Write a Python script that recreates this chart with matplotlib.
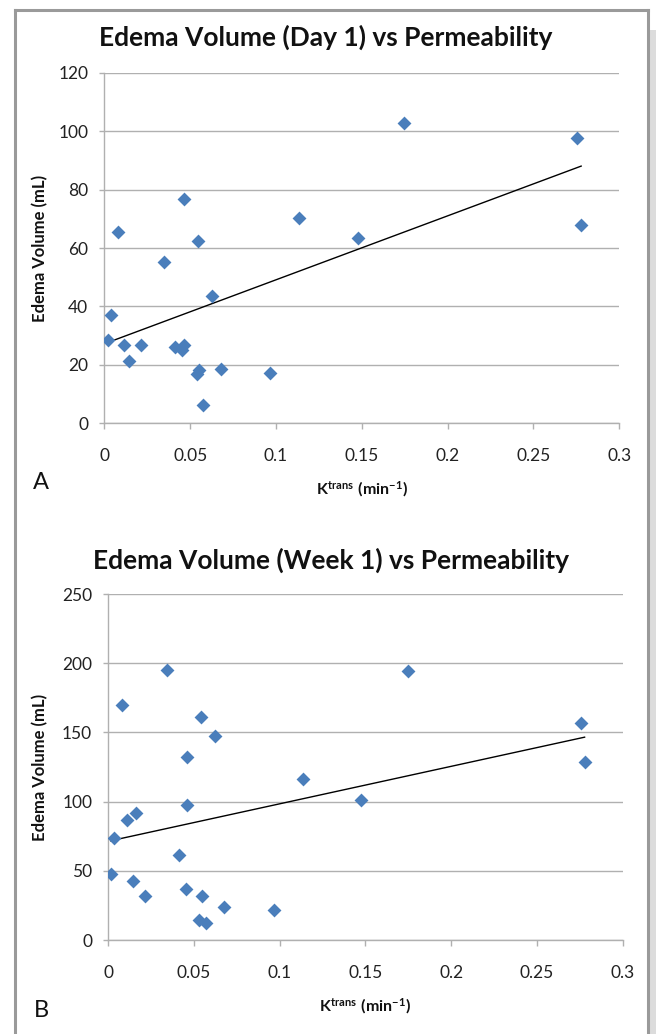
#edema volume vs permeability (Ktrans), day 1 and week 1

import matplotlib
matplotlib.use('Agg')
import matplotlib.pyplot as plt
import numpy as np
from matplotlib.lines import Line2D
from matplotlib.patches import Rectangle

plt.rcParams['font.family'] = ['Lato', 'DejaVu Sans']
plt.rcParams['mathtext.fontset'] = 'custom'
plt.rcParams['mathtext.rm'] = 'Lato'
plt.rcParams['mathtext.bf'] = 'Lato:bold'

# A. Day 1
ktrans_a = [0.002, 0.0039, 0.0082, 0.0117, 0.0146, 0.0214, 0.035, 0.0412, 0.0451,
            0.0466, 0.0462, 0.0546, 0.0538, 0.0553, 0.0577, 0.0626, 0.068, 0.0967,
            0.1136, 0.148, 0.1747, 0.2753, 0.2778]
volume_a = [28.5, 37, 65.4, 26.8, 21.4, 26.8, 55.3, 26.2, 25.1,
            26.8, 76.8, 62.5, 16.9, 18.2, 6.3, 43.7, 18.5, 17.1,
            70.4, 63.3, 102.9, 97.5, 67.9]

# B. Week 1
ktrans_b = [0.0014, 0.0033, 0.0078, 0.0111, 0.0162, 0.0146, 0.0214, 0.0344, 0.0412,
            0.0451, 0.0457, 0.0459, 0.0542, 0.0546, 0.0531, 0.057, 0.0622, 0.0675,
            0.0966, 0.1135, 0.1476, 0.1746, 0.2755, 0.2778]
volume_b = [48, 73.4, 170, 86.7, 91.8, 42.8, 31.9, 195.4, 61.4,
            36.7, 132.1, 97.8, 161.1, 31.7, 14.3, 12.6, 147.1, 24.2,
            21.7, 116.4, 101.4, 194.4, 157, 128.8]

x_ticks = [0, 0.05, 0.1, 0.15, 0.2, 0.25, 0.3]
x_tick_labels = ['0', '0.05', '0.1', '0.15', '0.2', '0.25', '0.3']
y_ticks_a = [0, 20, 40, 60, 80, 100, 120]
y_ticks_b = [0, 50, 100, 150, 200, 250]

blue = '#4a7ebb'
grid_gray = '#b0b0b0'

fig = plt.figure(figsize=(6.56, 10.34), dpi=100)
fig.patch.set_facecolor('white')


def panel(rect, x, y, yticks, title, title_pos, letter, letter_pos):
    ax = fig.add_axes(rect)
    ax.scatter(x, y, marker='D', s=50, color=blue, linewidths=0, zorder=3)
    # linear trendline
    m, b = np.polyfit(x, y, 1)
    xs = np.array([min(x), max(x)])
    ax.plot(xs, m * xs + b, color='black', linewidth=1.0, zorder=2)
    ax.set_xlim(0, 0.3)
    ax.set_ylim(yticks[0], yticks[-1])
    ax.set_xticks(x_ticks)
    ax.set_xticklabels(x_tick_labels)
    ax.set_yticks(yticks)
    ax.grid(True, axis='y', color=grid_gray, linewidth=1.0)
    ax.set_axisbelow(True)
    for s in ['top', 'right']:
        ax.spines[s].set_visible(False)
    for s in ['left', 'bottom']:
        ax.spines[s].set_color(grid_gray)
        ax.spines[s].set_linewidth(1.0)
    ax.tick_params(axis='x', direction='out', length=4, width=1, color=grid_gray,
                   pad=14, labelsize=12.5, labelcolor='#222222')
    ax.tick_params(axis='y', direction='out', length=3.6, width=1, color=grid_gray,
                   pad=8, labelsize=12.5, labelcolor='#222222')
    for lab in ax.get_xticklabels() + ax.get_yticklabels():
        lab.set_clip_on(False)
    pos = ax.get_position()
    fig.text(title_pos[0], title_pos[1], title, ha='center', va='center',
             fontsize=19, fontweight='bold', color='#111111')
    fig.text(0.061, pos.y0 + pos.height / 2, 'Edema Volume (mL)', rotation=90,
             ha='center', va='center', fontsize=12, fontweight='bold', color='#111111')
    fig.text(pos.x0 + pos.width / 2, pos.y0 - 0.0635, r'$\mathbf{K^{trans}\ (min^{-1})}$',
             ha='center', va='center', fontsize=11.5, color='#111111')
    fig.text(letter_pos[0], letter_pos[1], letter, ha='left', va='center',
             fontsize=17, color='#111111')
    return ax


panel([0.159, 0.5906, 0.785, 0.3391], ktrans_a, volume_a, y_ticks_a,
      'Edema Volume (Day 1) vs Permeability', (0.497, 0.9642), 'A', (0.050, 0.5329))
panel([0.1651, 0.0909, 0.7841, 0.3346], ktrans_b, volume_b, y_ticks_b,
      'Edema Volume (Week 1) vs Permeability', (0.5046, 0.4584), 'B', (0.052, 0.0232))

# screenshot frame
W, H = 656, 1034
frame_kw = dict(color='#9a9a9a', linewidth=2.2, transform=fig.transFigure)
fig.add_artist(Line2D([14.5 / W, 14.5 / W], [0, 1 - 10 / H], **frame_kw))
fig.add_artist(Line2D([14.5 / W, 647.5 / W], [1 - 10 / H, 1 - 10 / H], **frame_kw))
fig.add_artist(Line2D([647.5 / W, 647.5 / W], [0, 1 - 10 / H], **frame_kw))
fig.add_artist(Rectangle((650 / W, 0), 6 / W, 1 - 30 / H, transform=fig.transFigure,
                         facecolor='#dcdcdc', edgecolor='none'))

fig.savefig('out.png', dpi=100)
